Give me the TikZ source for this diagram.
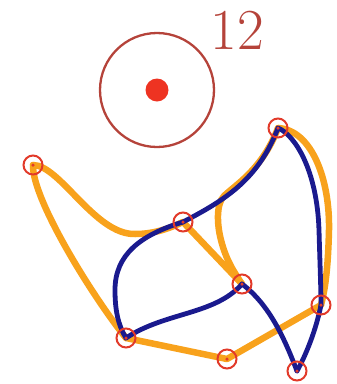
\documentclass[tikz,border=0pt]{standalone}
\begin{document}
\begin{tikzpicture}[x=1pt,y=-1pt,
  opath/.style={draw=orng,line width=6.5pt,line cap=round,line join=round},
  bpath/.style={draw=navy,line width=4.8pt,line cap=round,line join=round},
  vtx/.style={circle,draw=vred,line width=2pt,minimum size=19pt,inner sep=0pt},
  vdot/.style={circle,fill=vred,minimum size=3.5pt,inner sep=0pt}]
\definecolor{orng}{HTML}{F8A21C}
\definecolor{navy}{HTML}{1A1A8E}
\definecolor{vred}{HTML}{E23A2A}
\definecolor{brred}{HTML}{B5433A}
\definecolor{dotred}{HTML}{EE3322}
\useasboundingbox (0,0) rectangle (337,384);
% top symbol
\node[circle,draw=brred,line width=2.3pt,minimum size=114pt,inner sep=0pt] (big) at (157,90) {};
\node[circle,fill=dotred,minimum size=23pt,inner sep=0pt] (bigdot) at (157,90) {};
\node[text=brred,font=\fontsize{58}{60}\selectfont] (num) at (237,30) {12};
% vertex positions
\coordinate (A) at (33,165);
\coordinate (B) at (278,128);
\coordinate (C) at (183,222);
\coordinate (D) at (242,284);
\coordinate (E) at (321,305);
\coordinate (F) at (126,338);
\coordinate (G) at (227,359);
\coordinate (H) at (297,371);
% orange paths
\draw[opath] (A) .. controls (60,165) and (95,235) .. (135,234) .. controls (155,234) and (170,228) .. (C);
\draw[opath] (A) .. controls (32,200) and (95,300) .. (F);
\draw[opath] (F) -- (G) -- (E);
\draw[opath] (C) -- (D);
\draw[opath] (B) .. controls (312,130) and (330,180) .. (329,230) .. controls (328,270) and (325,290) .. (E);
\draw[opath] (B) .. controls (262,170) and (235,185) .. (224,196) .. controls (216,204) and (217,225) .. (221,240) .. controls (226,260) and (234,272) .. (D);
% blue paths
\draw[bpath] (C) .. controls (225,200) and (258,180) .. (B);
\draw[bpath] (B) .. controls (295,135) and (317,170) .. (319,230) .. controls (320,265) and (321,290) .. (E);
\draw[bpath] (E) .. controls (316,330) and (306,355) .. (H);
\draw[bpath] (C) .. controls (140,235) and (115,255) .. (115,290) .. controls (115,310) and (118,325) .. (F);
\draw[bpath] (F) .. controls (165,312) and (215,315) .. (D);
\draw[bpath] (D) .. controls (270,305) and (285,340) .. (H);
% vertex markers
\foreach \p in {A,B,C,D,E,F,G,H}{
  \node[vtx] (v\p) at (\p) {};
  \node[vdot] (d\p) at (\p) {};
}
\end{tikzpicture}
\end{document}
